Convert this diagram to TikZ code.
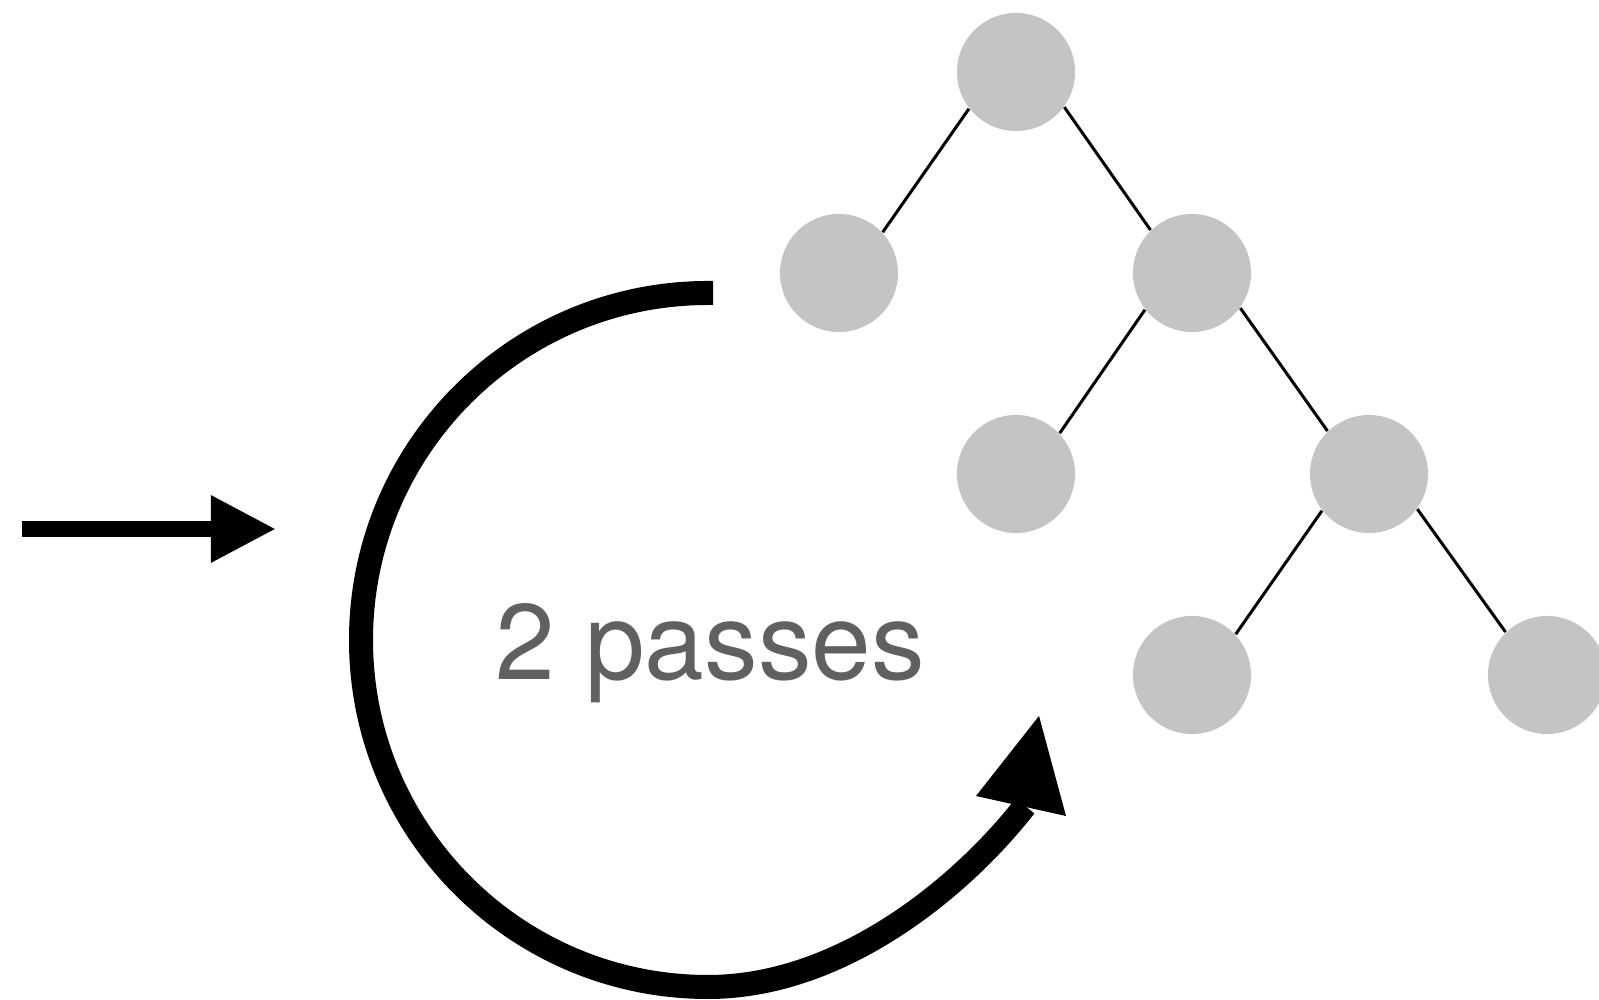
\documentclass[tikz,border=0pt]{standalone}
\usepackage{fontspec}
\setmainfont{TeX Gyre Heros}
\usetikzlibrary{arrows.meta}
\definecolor{nodegray}{RGB}{196,196,196}
\definecolor{labelgray}{RGB}{96,96,96}
\begin{document}
\begin{tikzpicture}[x=0.01cm,y=0.01cm,
  treenode/.style={circle,fill=nodegray,minimum size=1.18cm,inner sep=0pt},
  treeedge/.style={line width=0.03cm,black},
  bigarrow/.style={line width=0.153cm,line cap=butt,-{Triangle[length=0.65cm,width=0.63cm]}},
  loop/.style={line width=0.24cm,line cap=butt}]
\useasboundingbox (0,0) rectangle (1599,1000);
\clip (0,0) rectangle (1599,1000);

% binary tree: edges leave each parent low on its side and meet the child high on its side
\node[treenode] (r)   at (1016,928) {};
\node[treenode] (l)   at (839,727)  {};
\node[treenode] (rr)  at (1192,727) {};
\node[treenode] (rl)  at (1016,526) {};
\node[treenode] (rrr) at (1369,526) {};
\node[treenode] (rrl) at (1192,325) {};
\node[treenode] (rrrr) at (1547,325) {};
\draw[treeedge] (r.218) -- (l.43);
\draw[treeedge] (r.324) -- (rr.134);
\draw[treeedge] (rr.218) -- (rl.43);
\draw[treeedge] (rr.324) -- (rrr.134);
\draw[treeedge] (rrr.218) -- (rrl.43);
\draw[treeedge] (rrr.324) -- (rrrr.134);

% input arrow
\coordinate (inA) at (22,471);
\coordinate (inB) at (276,471);
\draw[bigarrow] (inA) -- (inB);

% looping arrow
\coordinate (loopStart) at (713,707);
\coordinate (loopEnd) at (1025,194);
\draw[loop] (loopStart) -- (708,707) arc[start angle=90,end angle=270,radius=347]
  .. controls (840,13) and (960,111) .. (loopEnd);
\fill (1039,284) -- (976,204) -- (1066,184) -- cycle;

% label
\node[anchor=base west,inner sep=0pt,text=labelgray,font=\fontsize{30.5}{36}\selectfont] (lbl) at (495,320) {2 passes};
\end{tikzpicture}
\end{document}
